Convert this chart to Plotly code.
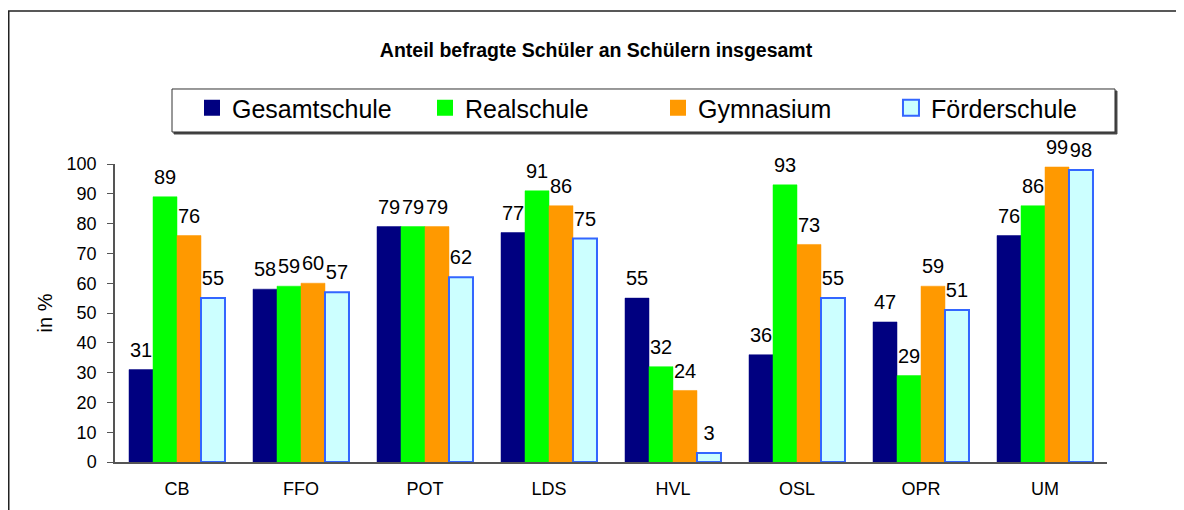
import plotly.graph_objects as go

categories = ["CB", "FFO", "POT", "LDS", "HVL", "OSL", "OPR", "UM"]
gesamtschule = [31, 58, 79, 77, 55, 36, 47, 76]
realschule = [89, 59, 79, 91, 32, 93, 29, 86]
gymnasium = [76, 60, 79, 86, 24, 73, 59, 99]
foerderschule = [55, 57, 62, 75, 3, 55, 51, 98]

series = [
    ("Gesamtschule", gesamtschule, "#000080", "#000080", 0.5),
    ("Realschule", realschule, "#00FF00", "#00FF00", 0.5),
    ("Gymnasium", gymnasium, "#FF9900", "#FF9900", 0.5),
    ("Förderschule", foerderschule, "#CCFFFF", "#3366FF", 2),
]

FONT = "Liberation Sans, Arial, sans-serif"
fig = go.Figure()
for i, (name, vals, fill, line, lw) in enumerate(series):
    fig.add_trace(go.Bar(
        name=name, x=categories, y=vals, showlegend=False,
        marker=dict(color=fill, line=dict(color=line, width=lw)),
        offsetgroup=str(i),
    ))
for i, (name, vals, fill, line, lw) in enumerate(series):
    fig.add_trace(go.Scatter(
        x=categories, y=vals, mode="markers+text", text=[str(v) for v in vals],
        textposition="top center", textfont=dict(size=20, color="black", family=FONT),
        marker=dict(size=11, color="rgba(0,0,0,0)"), showlegend=False, hoverinfo="skip",
        offsetgroup=str(i), cliponaxis=False,
    ))
# legend entries (square symbols like the reference)
for i, (name, vals, fill, line, lw) in enumerate(series):
    fig.add_trace(go.Scatter(
        x=[None], y=[None], mode="markers", name=name, offsetgroup=str(i),
        marker=dict(symbol="square", size=16, color=fill,
                    line=dict(color=line, width=2 if lw > 1 else 0)),
    ))

fig.update_layout(
    width=1176, height=502,
    barmode="group", bargap=0.226, bargroupgap=0,
    scattermode="group", scattergap=0.226,
    plot_bgcolor="white", paper_bgcolor="white",
    margin=dict(l=107, r=77, t=156, b=48),
    font=dict(family=FONT, color="black"),
    title=dict(text="<b>Anteil befragte Schüler an Schülern insgesamt</b>",
               x=0.5, xanchor="center", y=1 - 42 / 502, yanchor="middle",
               font=dict(size=19.5, family=FONT)),
    legend=dict(orientation="h", x=0.0776, xanchor="left", y=1.2651, yanchor="top",
                borderwidth=0, font=dict(size=25, family=FONT),
                entrywidth=188, traceorder="normal", bgcolor="rgba(0,0,0,0)"),
    shapes=[
        dict(type="rect", xref="paper", yref="paper",
             x0=-0.1071, x1=1.09, y0=-0.2, y1=1.5134,
             line=dict(color="#222222", width=1.5), layer="below"),
        dict(type="rect", xref="paper", yref="paper",
             x0=0.05746 + 0.002, x1=1.00806 + 0.002, y0=1.1074 - 0.0067, y1=1.2517 - 0.0067,
             line=dict(color="#444444", width=1), fillcolor="#444444", layer="below"),
        dict(type="rect", xref="paper", yref="paper",
             x0=0.05746, x1=1.00806, y0=1.1074, y1=1.2517,
             line=dict(color="#333333", width=1), fillcolor="white", layer="below"),
    ],
)
fig.update_xaxes(showline=True, linecolor="#555555", linewidth=1.5, ticks="",
                 tickfont=dict(size=18), showgrid=False, ticklabelstandoff=10)
fig.update_yaxes(range=[0, 100], dtick=10, showline=True, linecolor="#555555", linewidth=1.5,
                 ticks="outside", ticklen=6, tickcolor="#555555", showgrid=False,
                 tickfont=dict(size=18), zeroline=False, ticklabelstandoff=7,
                 title=dict(text="in %", font=dict(size=20), standoff=9))
fig.write_html("out.html")
